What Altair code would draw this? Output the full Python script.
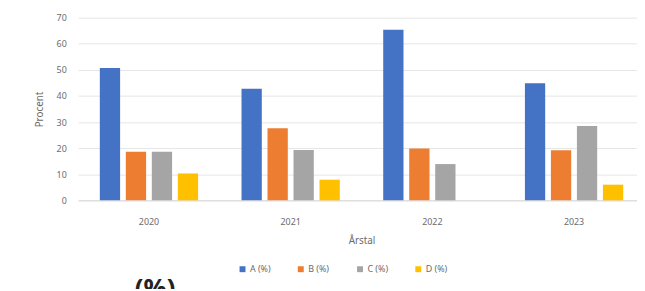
import altair as alt
import pandas as pd

years = ["2020", "2021", "2022", "2023"]
series = ["A (%)", "B (%)", "C (%)", "D (%)"]
values_a = [50.7, 42.8, 65.4, 44.9]
values_b = [18.6, 27.6, 19.9, 19.2]
values_c = [18.6, 19.3, 13.9, 28.5]
values_d = [10.3, 7.9, None, 6.0]
colors = ["#4472C4", "#ED7D31", "#A5A5A5", "#FFC000"]

rows = []
for s, vals in zip(series, [values_a, values_b, values_c, values_d]):
    for y, v in zip(years, vals):
        if v is not None:
            rows.append({"Årstal": y, "Serie": s, "Procent": v})
df = pd.DataFrame(rows)

FONT = "Noto Sans"
GREY = "#6b6b6b"

bars = alt.Chart(df).mark_bar().encode(
    x=alt.X("Årstal:N", sort=years,
            scale=alt.Scale(paddingInner=0, paddingOuter=0, range=[0, 574]),
            axis=alt.Axis(title="Årstal", labelAngle=0, ticks=False, domain=True,
                          domainColor="#d9d9d9", labelPadding=17, titlePadding=10,
                          labelFont=FONT, titleFont=FONT, labelFontSize=9,
                          titleFontSize=10, labelColor=GREY, titleColor=GREY,
                          titleFontWeight="normal")),
    xOffset=alt.XOffset("Serie:N", sort=series,
                        scale=alt.Scale(paddingInner=0.22, paddingOuter=0.835)),
    y=alt.Y("Procent:Q",
            scale=alt.Scale(domain=[0, 70], nice=False),
            axis=alt.Axis(title="Procent", values=[0, 10, 20, 30, 40, 50, 60, 70],
                          ticks=False, domain=False, gridColor="#e6e6e6",
                          labelPadding=12, titlePadding=12,
                          labelFont=FONT, titleFont=FONT, labelFontSize=9,
                          titleFontSize=10, labelColor=GREY, titleColor=GREY,
                          titleFontWeight="normal")),
    color=alt.Color("Serie:N", sort=series,
                    scale=alt.Scale(domain=series, range=colors),
                    legend=alt.Legend(title=None, orient="none", direction="horizontal",
                                      legendX=162, legendY=250, symbolType="square",
                                      symbolSize=36, labelFont=FONT, labelFontSize=9,
                                      labelColor=GREY, columnPadding=26, labelOffset=3,
                                      symbolStrokeWidth=0)),
)

heading = alt.Chart(pd.DataFrame({"t": ["(%)"]})).mark_text(
    font=FONT, fontSize=26, fontWeight="bold", color="#222222",
    baseline="top", align="center"
).encode(x=alt.value(78), y=alt.value(262), text="t:N")

chart = alt.layer(bars, heading).properties(
    width=566, height=185,
    autosize=alt.AutoSizeParams(type="none"),
    padding={"left": 71, "top": 8, "right": 0, "bottom": 88},
).configure_view(stroke=None)

chart.save("out.html", embed_options={"renderer": "svg", "actions": False})
